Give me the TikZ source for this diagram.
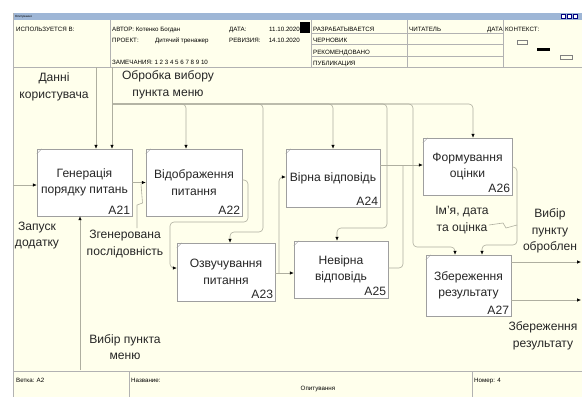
\documentclass[tikz,border=0pt]{standalone}
\usepackage{fontspec}
\setmainfont{Liberation Sans}
\usetikzlibrary{arrows.meta,positioning,calc}
\definecolor{paper}{RGB}{255,255,236}
\definecolor{titlebar}{RGB}{158,182,214}
\definecolor{wirec}{RGB}{175,175,160}
\newcommand{\lblfont}{\fontsize{12.1}{16.5}\selectfont}
\newcommand{\hdrfont}{\fontsize{6.2}{7}\selectfont}
\tikzset{
  >=Latex,
  fn/.style={rectangle, draw=gray!75, fill=white, align=center, inner sep=0pt, font=\lblfont, text=black!85},
  num/.style={anchor=south east, inner sep=2pt, font=\lblfont, text=black!85},
  lbl/.style={align=center, inner sep=0pt, font=\lblfont, text=black!85},
  hdr/.style={anchor=base west, inner sep=0pt, font=\hdrfont},
  frm/.style={draw=gray!60, line width=0.5pt},
  wire/.style={draw=wirec, line width=0.6pt, rounded corners=4pt},
  flow/.style={wire, -{Latex[length=4pt,width=3.5pt,color=black]}}
}
\begin{document}
\begin{tikzpicture}[x=1pt, y=-1pt]
    % Canvas
    \useasboundingbox (0,0) rectangle (582,397);
    \fill[white] (0,0) rectangle (582,397);
    \fill[paper] (13,20) rectangle (582,397);
    \fill[titlebar] (13,13) rectangle (582,20);
    \node[anchor=west, inner sep=0pt, font=\fontsize{3}{3}\selectfont] (ttl) at (15,16.5) {Опитування};
    \foreach \x in {561,567,573}
        \draw[fill=white, draw=blue!50!black, line width=0.3pt] (\x,14.5) rectangle ++(4,3.5);

    % Frame
    \draw[frm] (13,13) -- (13,397);
    \draw[frm] (13,67) -- (582,67);
    \draw[frm] (13,371) -- (582,371);
    \foreach \x in {110,311,407,503} \draw[frm] (\x,20) -- (\x,67);
    \foreach \y in {33,44,56} \draw[frm] (311,\y) -- (503,\y);
    \foreach \x in {129,472} \draw[frm] (\x,371) -- (\x,397);

    % Header
    \node[hdr] (uses) at (16,31) {ИСПОЛЬЗУЕТСЯ В:};
    \node[hdr] (author) at (112,31) {АВТОР: Котенко Богдан};
    \node[hdr] (date) at (229,31) {ДАТА:};
    \node[hdr, anchor=base east] (dateval) at (300,31) {11.10.2020};
    \node[hdr] (proj) at (112,42) {ПРОЕКТ:};
    \node[hdr] (projval) at (155,42) {Дитячий тренажер};
    \node[hdr] (rev) at (229,42) {РЕВИЗИЯ:};
    \node[hdr, anchor=base east] (revval) at (300,42) {14.10.2020};
    \node[hdr] (notes) at (112,64) {ЗАМЕЧАНИЯ: 1 2 3 4 5 6 7 8 9 10};
    \fill (300,22) rectangle (310,33);
    \node[hdr] (st1) at (313,31) {РАЗРАБАТЫВАЕТСЯ};
    \node[hdr] (st2) at (313,42) {ЧЕРНОВИК};
    \node[hdr] (st3) at (313,54) {РЕКОМЕНДОВАНО};
    \node[hdr] (st4) at (313,65) {ПУБЛИКАЦИЯ};
    \node[hdr] (reader) at (409,31) {ЧИТАТЕЛЬ};
    \node[hdr, anchor=base east] (rdate) at (503,31) {ДАТА};
    \node[hdr] (ctx) at (505,31) {КОНТЕКСТ:};
    \draw[gray, line width=0.4pt] (517,40) rectangle (527,44);
    \fill (537,48) rectangle (550,51);
    \draw[gray, line width=0.4pt] (560,55) rectangle (572,59);

    % Footer
    \node[hdr] (branch) at (16,382) {Ветка: A2};
    \node[hdr] (title) at (131,382) {Название:};
    \node[hdr, anchor=base] (name) at (318,390) {Опитування};
    \node[hdr] (page) at (474,382) {Номер: 4};

    % Functions
    \node[fn, minimum width=95pt, minimum height=67pt] (a21) at (84.5,182.5) {Генерація\\порядку питань};
    \node[fn, minimum width=96pt, minimum height=67pt] (a22) at (194,182.5) {Відображення\\питання};
    \node[fn, minimum width=98pt, minimum height=58pt] (a23) at (226,272) {Озвучування\\питання};
    \node[fn, minimum width=94pt, minimum height=58pt] (a24) at (333,178) {Вірна відповідь};
    \node[fn, minimum width=94pt, minimum height=57pt] (a25) at (341,269.5) {Невірна\\відповідь};
    \node[fn, minimum width=89pt, minimum height=57pt] (a26) at (467.5,166.5) {Формування\\оцінки};
    \node[fn, minimum width=85pt, minimum height=61pt] (a27) at (468.5,285.5) {Збереження\\результату};
    \foreach \b/\t in {a21/A21, a22/A22, a23/A23, a24/A24, a25/A25, a26/A26, a27/A27} {
        \node[num] (n\b) at (\b.south east) {\t};
        \draw[draw=gray!75, line width=0.4pt] ([yshift=-5pt]\b.north west) -- ([xshift=5pt]\b.north west);
    }

    % Labels
    \node[lbl] (lData) at (54,87) {Данні\\користувача};
    \node[lbl] (lMenu) at (168,85) {Обробка вибору\\пункта меню};
    \node[lbl] (lStart) at (37,235.5) {Запуск\\додатку};
    \node[lbl] (lSeq) at (125,244) {Згенерована\\послідовність};
    \node[lbl] (lPick) at (125,347) {Вибір пункта\\меню};
    \node[lbl] (lName) at (462,220) {Ім'я, дата\\та оцінка};
    \node[lbl] (lDone) at (550,231) {Вибір\\пункту\\оброблен};
    \node[lbl] (lSave) at (543,336) {Збереження\\результату};

    % Boundary points
    \coordinate (inStart) at (13,185);
    \coordinate (ctlData) at (96,67);
    \coordinate (ctlMenu) at (112,67);
    \coordinate (bus) at (112,104);
    \coordinate (mecPick) at (80,370);
    \coordinate (outDone) at (581,262);
    \coordinate (outSave) at (581,300);

    % Input, controls, mechanism
    \draw[flow] (inStart) -- (a21.west |- inStart);
    \draw[flow] (ctlData) -- (ctlData |- a21.north);
    \draw[flow] (ctlMenu) -- (ctlMenu |- a21.north);
    \draw[flow] (mecPick) -- (mecPick |- a21.south);
    \draw[flow] (bus) -| ([xshift=-8pt]a22.north);
    \draw[flow] (bus) -| (263,232) -| ([xshift=4pt]a23.north);
    \draw[flow] (bus) -| (a24.north);
    \draw[flow] (bus) -| (387,228) -| ([xshift=-4pt]a25.north);
    \draw[flow] (bus) -| ([xshift=5.5pt]a26.north);
    \draw[flow] (bus) -| (413,247) -| ([xshift=-13.5pt]a27.north);

    % Flows between functions
    \draw[flow] (a21.east) -- (a22.west);
    \draw[flow] (a22.east |- 0,180) -| (248,222) -| (170,268) -- (a23.west |- 0,268);
    \draw[flow] (a23.east |- 0,273) -- (a25.west |- 0,273);
    \draw[flow] (279,273) |- (a24.west |- 0,177);
    \draw[flow] (a24.east |- 0,165) -- (a26.west |- 0,165);
    \draw[wire] (a25.east |- 0,268) -| (403,165);
    \draw[flow] (a26.east |- 0,167) -| (517,245) -| ([xshift=13.5pt]a27.north);
    \draw[flow] (a27.east |- outDone) -- (outDone);
    \draw[flow] (a27.east |- outSave) -- (outSave);

    % Squiggles
    \draw[wirec, line width=0.6pt] (141,184) -- (142.5,203) -- (137,205) -- (137,228);
    \draw[wirec, line width=0.6pt] (lName.east |- 0,225) -- (503,223) -- (506,228) -- (517,225);
\end{tikzpicture}
\end{document}
